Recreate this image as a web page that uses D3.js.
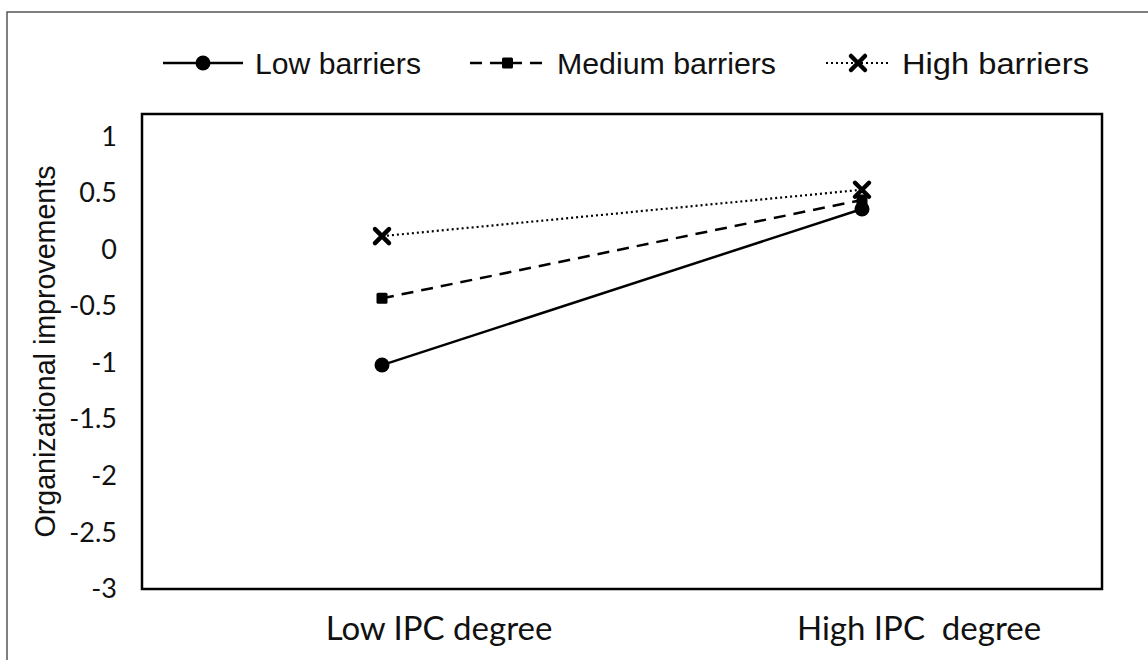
<!DOCTYPE html>
<html><head><meta charset="utf-8">
<script src="https://cdn.jsdelivr.net/npm/d3@7"></script>
<style>body{margin:0;background:#fff}</style>
</head><body>
<svg id="c" width="1148" height="660"></svg>
<script>
const categories = ["Low IPC degree", "High IPC degree"];
const categoryLabels = ["Low IPC degree", "High IPC\u00a0 degree"];
const seriesNames = ["Low barriers", "Medium barriers", "High barriers"];
const lowBarriers = [-1.02, 0.36];
const mediumBarriers = [-0.43, 0.44];
const highBarriers = [0.12, 0.53];
const yTicks = [-3, -2.5, -2, -1.5, -1, -0.5, 0, 0.5, 1];
const yDomain = [-3, 1.2];
const yTitle = "Organizational improvements";

const svg = d3.select("#c");
// outer frame (only left/top visible)
svg.append("rect").attr("x",7).attr("y",12).attr("width",1200).attr("height",700)
  .attr("fill","none").attr("stroke","#555").attr("stroke-width",1.5);

const L=142, R=1102, T=114, B=589;
const x = d3.scaleBand().domain(categories).range([L,R]);
const y = d3.scaleLinear().domain(yDomain).range([B,T]);
const cx = c => x(c) + x.bandwidth()/2;

// y axis labels
const yAxis = d3.axisLeft(y).tickValues(yTicks).tickSize(0).tickPadding(25)
  .tickFormat(d => d3.format("")(d).replace("−","-"));
const gy = svg.append("g").attr("transform",`translate(${L},0)`).call(yAxis);
gy.select(".domain").remove();
gy.selectAll("text").attr("font-family","Lato, 'Open Sans', sans-serif").attr("font-size",27).attr("fill","#111");

// x axis labels
const xAxis = d3.axisBottom(x).tickSize(0).tickPadding(28)
  .tickFormat((d,i)=>categoryLabels[i]);
const gx = svg.append("g").attr("transform",`translate(0,${B})`).call(xAxis);
gx.select(".domain").remove();
gx.selectAll("text").attr("font-family","Lato, 'Open Sans', sans-serif").attr("font-size",33).attr("fill","#111")
  .attr("dy","0.71em").attr("dx",57);

// plot box
svg.append("rect").attr("x",L).attr("y",T).attr("width",R-L).attr("height",B-T)
  .attr("fill","none").attr("stroke","#000").attr("stroke-width",2.5);

// y title
svg.append("text").attr("transform",`translate(55,${(T+B)/2}) rotate(-90)`)
  .attr("text-anchor","middle").attr("font-family","'Liberation Sans', Arial, sans-serif")
  .attr("font-size",29).attr("fill","#111")
  .attr("textLength",372).attr("lengthAdjust","spacingAndGlyphs").text(yTitle);

const series = [
  {name: seriesNames[0], values: lowBarriers, dash: null, width: 2.5, marker: "circle"},
  {name: seriesNames[1], values: mediumBarriers, dash: "12,8", width: 2.5, marker: "square"},
  {name: seriesNames[2], values: highBarriers, dash: "2,3", width: 2.2, marker: "x"}
];

function drawMarker(g, type, px, py){
  if(type==="circle"){
    g.append("circle").attr("cx",px).attr("cy",py).attr("r",7.5).attr("fill","#000");
  } else if(type==="square"){
    g.append("rect").attr("x",px-5.5).attr("y",py-5.5).attr("width",11).attr("height",11).attr("rx",1.5).attr("fill","#000");
  } else {
    const s=7;
    g.append("path").attr("d",`M${px-s},${py-s}L${px+s},${py+s}M${px-s},${py+s}L${px+s},${py-s}`)
      .attr("stroke","#000").attr("stroke-width",4.5).attr("stroke-linecap","round");
  }
}

const line = d3.line().x((d,i)=>cx(categories[i])).y(d=>y(d));
series.forEach(s=>{
  svg.append("path").datum(s.values).attr("d",line).attr("fill","none")
    .attr("stroke","#000").attr("stroke-width",s.width).attr("stroke-dasharray",s.dash);
});
series.forEach(s=>{
  const g = svg.append("g");
  s.values.forEach((v,i)=>drawMarker(g, s.marker, cx(categories[i]), y(v)));
});

// legend
const legendX = [163, 470, 826];
const legendLineW = [80, 75, 64];
const legendTextW = [166, 219, 187];
const ly = 63;
series.forEach((s,i)=>{
  const g = svg.append("g");
  const x0 = legendX[i], w = legendLineW[i];
  g.append("line").attr("x1",x0).attr("x2",x0+w).attr("y1",ly).attr("y2",ly)
    .attr("stroke","#000").attr("stroke-width",s.width).attr("stroke-dasharray",s.dash);
  drawMarker(g, s.marker, x0+w/2, ly);
  g.append("text").attr("x",x0+w+12).attr("y",ly).attr("dy","0.35em")
    .attr("font-family","'Liberation Sans', Arial, sans-serif").attr("font-size",30).attr("fill","#111")
    .attr("textLength",legendTextW[i]).attr("lengthAdjust","spacingAndGlyphs")
    .text(s.name);
});
</script>
</body></html>
